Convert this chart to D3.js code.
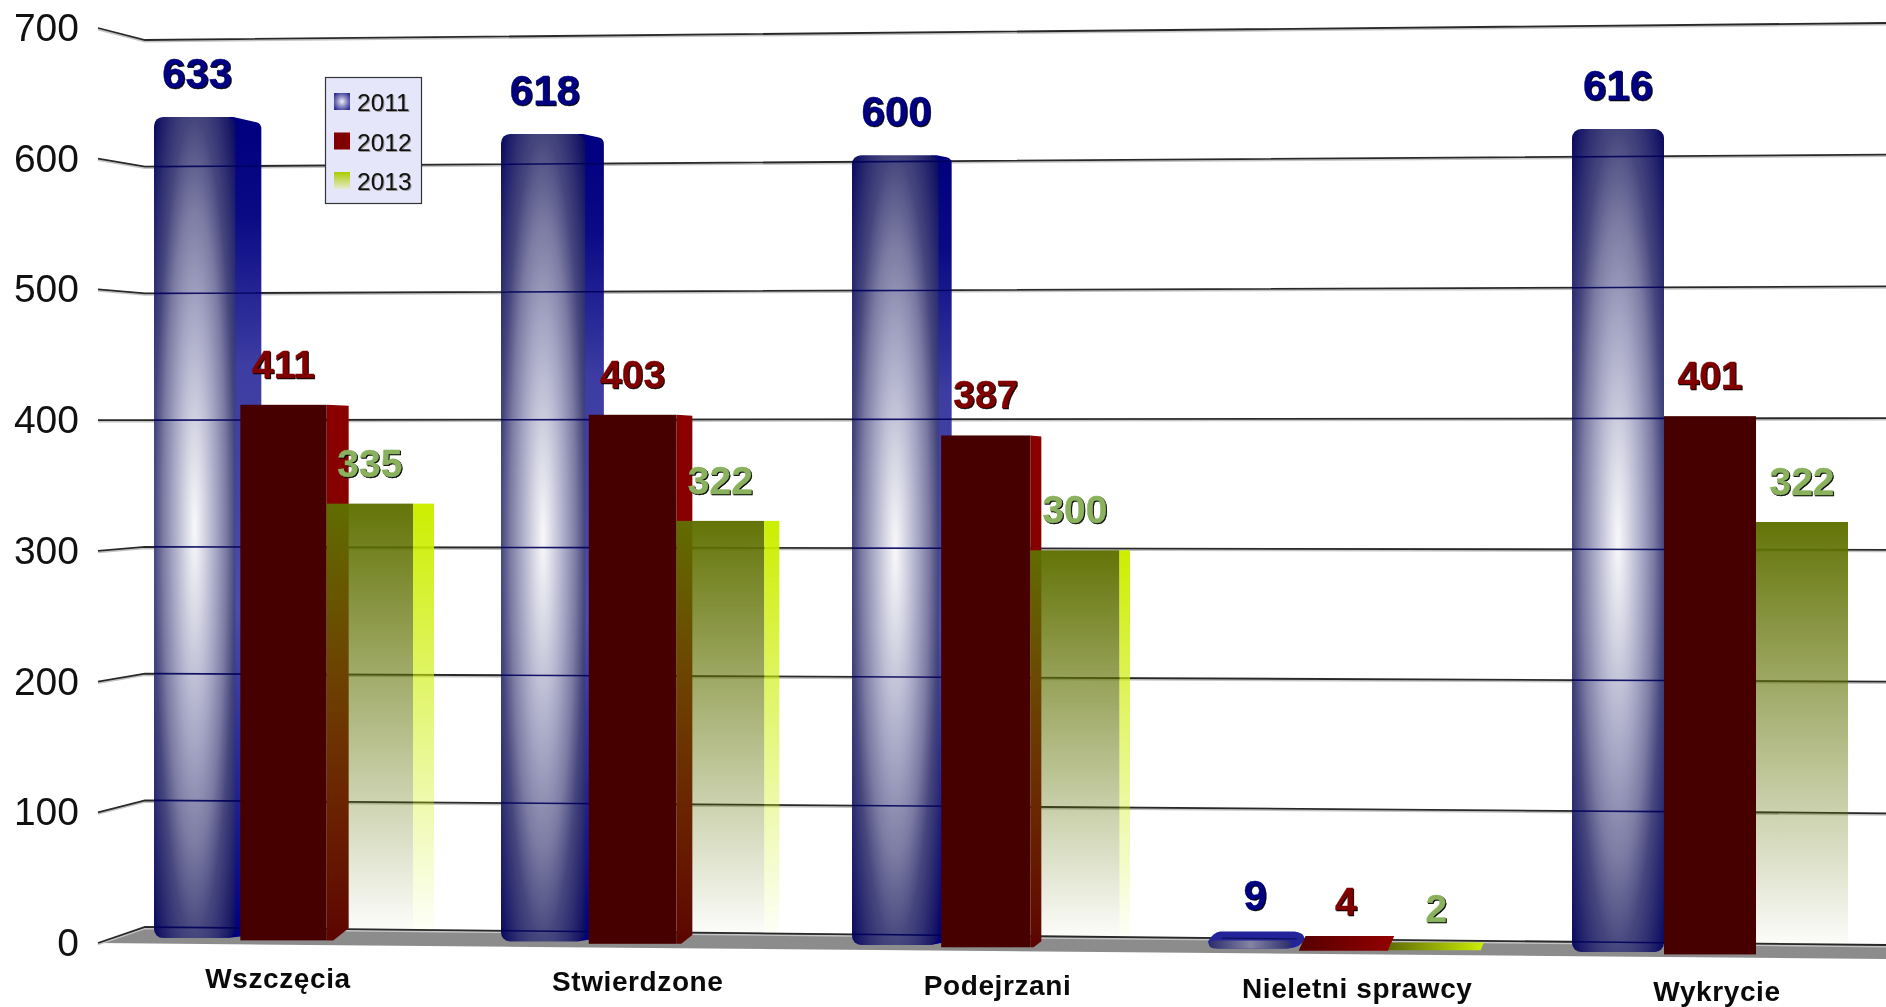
<!DOCTYPE html>
<html><head><meta charset="utf-8">
<script src="https://cdn.jsdelivr.net/npm/d3@7/dist/d3.min.js"></script>
<style>
html,body{margin:0;padding:0;background:#fff;overflow:hidden}
svg{display:block;font-family:"Liberation Sans",Arial,sans-serif;filter:blur(.4px)}
.val{font-weight:700;stroke-width:.4px;filter:drop-shadow(1.7px 1.7px .3px #000)}
.leg{filter:drop-shadow(1px 1px .5px #999)}
</style></head><body>
<svg id="c" width="1886" height="1007"></svg>
<script>
const categories = ["Wszczęcia","Stwierdzone","Podejrzani","Nieletni sprawcy","Wykrycie"];
const years = ["2011","2012","2013"];
const values2011 = [633,618,600,9,616];
const values2012 = [411,403,387,4,401];
const values2013 = [335,322,300,2,322];
const yTicks = [0,100,200,300,400,500,600,700];
const seriesValues = [values2011,values2012,values2013];
const labelColors = ["#000080","#800000","#8ab25e"];
const labelSizes = [42,39,39];
const sideDepth = [26,22,21];
const flatDepth = [5,8,5];

const svg = d3.select("#c");
const defs = svg.append("defs");
function radial(id,stops,r){const g=defs.append("radialGradient").attr("id",id).attr("cx",.5).attr("cy",.5).attr("r",r);
  stops.forEach(s=>g.append("stop").attr("offset",s[0]).attr("stop-color",s[1]));}
function linear(id,stops,x2,y2){const g=defs.append("linearGradient").attr("id",id).attr("x1",0).attr("y1",0).attr("x2",x2).attr("y2",y2);
  stops.forEach(s=>g.append("stop").attr("offset",s[0]).attr("stop-color",s[1]).attr("stop-opacity",s[2]===undefined?1:s[2]));}
radial("blueFront",[[0,"#f8f8fb"],[.14,"#dcdce8"],[.36,"#aaaac8"],[.55,"#7c7ca4"],[.71,"#46467e"],[1,"#0a0a60"]],.7);
linear("blueSide",[[0,"#000080"],[.12,"#0a0a85"],[.3,"#3c3ca2"],[.6,"#4c4cac"],[1,"#000080"]],0,1);
linear("redSide",[[0,"#8b0000"],[.5,"#800000"],[1,"#5c0600"]],0,1);
linear("greenFront",[[0,"#5f7000",.97],[1,"#5f7000",.02]],0,1);
linear("greenSide",[[0,"#ccee00",1],[1,"#ccee00",.03]],0,1);
linear("redFlat",[[0,"#560000"],[1,"#930000"]],1,0);
linear("greenFlat",[[0,"#5f6c00"],[1,"#ccee00"]],1,0);
linear("blueFlat",[[0,"#2c2c6c"],[.5,"#8484a4"],[1,"#2c2c6c"]],1,0);
linear("legend2013",[[0,"#aacc00"],[1,"#e6ead0"]],0,1);
radial("legend2011",[[0,"#eeeef8"],[.5,"#8888c0"],[1,"#2c2c90"]],.62);

// Scales
const yAxis = d3.scaleLinear().domain([0,700]).range([943,28]);
const wallL = d3.scaleLinear().domain([0,700]).range([927,40]);
const wallR = d3.scaleLinear().domain([0,700]).range([945,23]);
const wallX0 = 145, wallX1 = 1886, stubX = 98;
const wallY = (v,x)=> wallL(v)+(wallR(v)-wallL(v))*(x-wallX0)/(wallX1-wallX0);
const baseY = d3.scaleLinear().domain([194,1710]).range([938,952.9]);
const unit = d3.scaleLinear().domain([194,1710]).range([1.297,1.3385]);
const frontY = (v,x)=> baseY(x)-v*unit(x);
const groupIdx = d3.scaleOrdinal().domain(categories).range(d3.range(5));
const groupLeft = d3.scaleLinear().domain([0,1,2,3,4]).range([154,501,852,1210,1572]);
const groupWidth = d3.scaleLinear().domain([0,4]).range([259,276]);
const sideFall = d3.scaleLinear().domain([0,1,2,3,4]).range([1,.72,.5,.3,0]);
const labelX = d3.scalePoint().domain(categories).range([278,1717]);
const labelY = d3.scaleLinear().domain([278,1717]).range([988,1001]);

// Floor
const line = d3.line();
svg.append("path").attr("fill","#8c8c8c").attr("d",line([[stubX,yAxis(0)],[wallX0,wallL(0)],[wallX1,wallR(0)],[wallX1,959]])+"Z");

// Grid
function drawGrid(g,color,w,op,dy){
  g.selectAll("path").data(yTicks).join("path").attr("fill","none")
   .attr("stroke",color).attr("stroke-width",w).attr("stroke-opacity",op)
   .attr("d",v=>line([[stubX,yAxis(v)+dy],[wallX0,wallL(v)+dy],[wallX1,wallR(v)+dy]]));
}
const gridG = svg.append("g");
drawGrid(gridG.append("g"),"#c4c4c4",1.6,1,1.6);
drawGrid(gridG.append("g"),"#282828",1.8,1,0);

// Y axis
const ax = svg.append("g").attr("transform","translate(79,0)")
  .call(d3.axisLeft(yAxis).tickValues(yTicks).tickSize(0).tickPadding(0).tickFormat(d3.format("d")));
ax.select(".domain").remove();
ax.selectAll("text").attr("font-size",39).attr("fill","#111").attr("font-family","'Liberation Sans',Arial,sans-serif");

// Bars
const bars = [];
categories.forEach((c,i)=>{
  const gi = groupIdx(c), w = groupWidth(gi)/3;
  seriesValues.forEach((vals,s)=>{
    const x0 = groupLeft(gi)+s*groupWidth(gi)/3, x1 = x0+w, mid = (x0+x1)/2;
    const isFlat = vals[i]<20;
    const frontRight = s===0 ? x1-5*sideFall(gi) : x1;
    const d = isFlat?0:sideDepth[s]*sideFall(gi);
    const top = frontY(vals[i],mid) - (isFlat?flatDepth[s]:0);
    const base = baseY(mid)+(s===1?1.5:0);
    bars.push({v:vals[i],s,gi,x0,x1,mid,isFlat,frontRight,d,top,base});
  });
});
const of = s=>bars.filter(b=>b.s===s);

// clip for lines seen through blue columns
const clip = defs.append("clipPath").attr("id","blueClip");
clip.selectAll("rect").data(of(0).filter(b=>!b.isFlat)).join("rect")
  .attr("x",b=>b.x0).attr("y",b=>b.top).attr("width",b=>b.frontRight-b.x0+b.d).attr("height",b=>b.base-b.top);

const blue = svg.append("g");
of(0).filter(b=>!b.isFlat).forEach(b=>{
  const r=b.frontRight, t=b.top, d=b.d, sl=.24*d;
  if(d>1) blue.append("path").attr("fill","url(#blueSide)")
    .attr("d",`M${r-8},${t} L${r-2},${t} L${r+d-5},${t+sl-1} Q${r+d},${t+sl} ${r+d},${t+sl+6} L${r+d},${b.base-4} L${r-8},${b.base} Z`);
  blue.append("rect").attr("x",b.x0).attr("y",t).attr("width",r-b.x0).attr("height",b.base-t).attr("rx",9).attr("fill","url(#blueFront)");
});
const through = svg.append("g").attr("clip-path","url(#blueClip)");
drawGrid(through,"#00005a",1.6,.9,0);

// flat blue
const flatBlue = svg.append("g");
of(0).filter(b=>b.isFlat).forEach(b=>{
  const l=b.x0-2, r=b.x1+4, t=b.top, bt=b.base;
  flatBlue.append("path").attr("fill","#24249a")
    .attr("d",`M${l+12},${t} L${r-10},${t} Q${r},${t+1} ${r},${t+8} Q${r-4},${bt-1} ${r-16},${bt} L${l+10},${bt} Q${l},${bt-1} ${l},${bt-7} Q${l+5},${t+1} ${l+12},${t}Z`);
  flatBlue.append("rect").attr("x",l+1).attr("y",t+9).attr("width",r-l-14).attr("height",bt-t-9).attr("rx",5).attr("fill","url(#blueFlat)");
  flatBlue.append("path").attr("stroke","#10105a").attr("stroke-width",1.4).attr("fill","none").attr("d",line([[l+14,wallY(0,l+14)],[r-8,wallY(0,r-8)]]));
});

// red
const red = svg.append("g");
of(1).filter(b=>!b.isFlat).forEach(b=>{
  const r=b.x1,d=b.d;
  if(d>1) red.append("path").attr("fill","url(#redSide)")
    .attr("d",line([[r,b.top],[r+d,b.top+1],[r+d,b.base-d*.55],[r+d*.3,b.base],[r,b.base]])+"Z");
  red.append("rect").attr("x",b.x0).attr("y",b.top).attr("width",r-b.x0).attr("height",b.base-b.top).attr("fill","#470000");
});
of(1).filter(b=>b.isFlat).forEach(b=>{
  red.append("path").attr("fill","url(#redFlat)")
    .attr("d",line([[b.x0+5,b.top],[b.x1+3,b.top],[b.x1-3,b.base],[b.x0-2,b.base]])+"Z");
});

// green
const green = svg.append("g");
of(2).filter(b=>!b.isFlat).forEach(b=>{
  const bot = wallY(0,b.mid);
  green.append("rect").attr("x",b.x0).attr("y",b.top).attr("width",b.x1-b.x0).attr("height",bot-b.top).attr("fill","url(#greenFront)");
  if(b.d>1) green.append("rect").attr("x",b.x1).attr("y",b.top).attr("width",b.d).attr("height",bot-b.top).attr("fill","url(#greenSide)");
});
of(2).filter(b=>b.isFlat).forEach(b=>{
  green.append("path").attr("fill","url(#greenFlat)")
    .attr("d",line([[b.x0,b.top],[b.x1+2,b.top],[b.x1-1,b.base],[b.x0-3,b.base]])+"Z");
});

// Value labels
svg.append("g").selectAll("text").data(bars).join("text").attr("class","val")
  .attr("x",b=>b.mid)
  .attr("y",b=>b.top-(b.isFlat?21:(b.s===0?29:27)))
  .attr("text-anchor","middle")
  .attr("font-size",b=>labelSizes[b.s])
  .attr("fill",b=>labelColors[b.s])
  .attr("stroke",b=>labelColors[b.s])
  .text(b=>b.v);

// Category labels
svg.append("g").selectAll("text").data(categories).join("text")
  .attr("x",c=>labelX(c)).attr("y",c=>labelY(labelX(c))).attr("text-anchor","middle")
  .attr("font-size",28).attr("letter-spacing",.6).attr("font-weight",700).attr("fill","#0a0a0a").text(c=>c);

// Legend
const lg = svg.append("g");
lg.append("rect").attr("x",325.5).attr("y",77.5).attr("width",96).attr("height",126).attr("fill","#e6e6fb").attr("stroke","#333").attr("stroke-width",1.2);
const legendFill = ["url(#legend2011)","#800000","url(#legend2013)"];
const legendY = d3.scalePoint().domain(years).range([111,190]);
years.forEach((y,i)=>{
  lg.append("rect").attr("x",334).attr("y",legendY(y)-18).attr("width",16).attr("height",17).attr("fill",legendFill[i]);
  lg.append("text").attr("class","leg").attr("x",357).attr("y",legendY(y)).attr("font-size",24.5).attr("fill","#111").text(y);
});
</script>
</body></html>
